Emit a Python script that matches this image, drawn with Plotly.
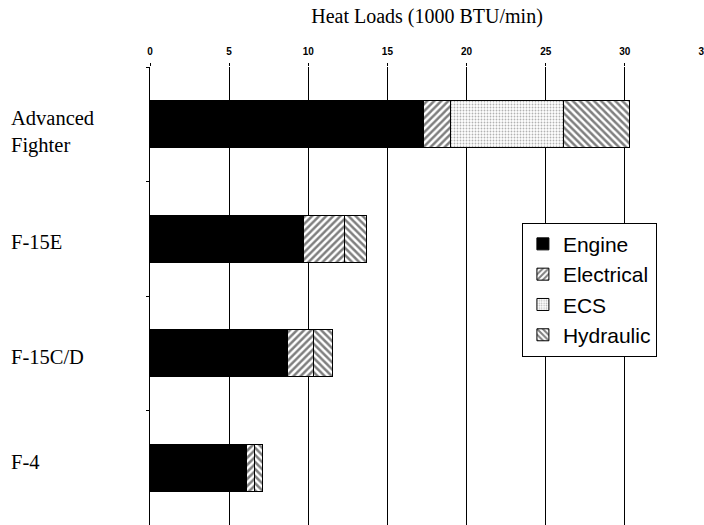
import plotly.graph_objects as go

aircraft = ["Advanced<br>Fighter", "F-15E", "F-15C/D", "F-4"]
engine = [17.3, 9.7, 8.7, 6.1]
electrical = [1.7, 2.6, 1.6, 0.5]
ecs = [7.1, 0.0, 0.0, 0.0]
hydraulic = [4.2, 1.35, 1.25, 0.5]
x_ticks = [0, 5, 10, 15, 20, 25, 30, 35]

series = [
    ("Engine", engine, dict(color="black")),
    ("Electrical", electrical, dict(color="white", pattern=dict(shape="/", fgcolor="black", bgcolor="white", size=5, solidity=0.5))),
    ("ECS", ecs, dict(color="white", pattern=dict(shape=".", fgcolor="#666666", bgcolor="white", size=3, solidity=0.3))),
    ("Hydraulic", hydraulic, dict(color="white", pattern=dict(shape="\\", fgcolor="black", bgcolor="white", size=5, solidity=0.5))),
]

fig = go.Figure()
for name, vals, marker in series:
    m = dict(marker)
    m["line"] = dict(color="black", width=1)
    fig.add_trace(go.Bar(name=name, y=aircraft, x=vals, orientation="h",
                         marker=m, width=0.41))

label_dy = [0.07, 0.03, 0.03, -0.05]
for cat, dy in zip(aircraft, label_dy):
    fig.add_annotation(x=-0.2546, xref="paper", xanchor="left", y=cat, yref="y",
                       yshift=-dy * 114, text=cat, showarrow=False, align="left",
                       font=dict(family="Liberation Serif, Times New Roman, serif", size=20.5, color="black"))

fig.update_layout(
    barmode="stack",
    width=704, height=525,
    margin=dict(l=150, r=0, t=67, b=0, autoexpand=False),
    paper_bgcolor="white", plot_bgcolor="white",
    title=dict(text="Heat Loads (1000 BTU/min)", x=0.5, xref="paper", xanchor="center",
               y=1 - 16 / 525, yref="container", yanchor="middle",
               font=dict(family="Liberation Serif, Times New Roman, serif", size=20, color="black")),
    legend=dict(x=0.915, xanchor="right", y=0.66, yanchor="top",
                bgcolor="white", bordercolor="black", borderwidth=1,
                font=dict(family="Liberation Sans, Arial, sans-serif", size=21, color="black"),
                traceorder="normal", tracegroupgap=0, itemwidth=30),
    showlegend=True,
)
fig.update_xaxes(side="top", range=[0, 35], tickvals=x_ticks, ticktext=[str(v) for v in x_ticks],
                 showgrid=True, gridcolor="black", gridwidth=1, zeroline=False,
                 showline=False, ticks="outside", ticklen=3, tickcolor="black",
                 ticklabeloverflow="allow", ticklabelstandoff=4, automargin=False,
                 tickfont=dict(family="Liberation Sans Narrow, Liberation Sans, Arial, sans-serif", size=10, color="black", weight="bold"))
fig.update_yaxes(type="category", range=[3.5, -0.5], showticklabels=False,
                 showline=True, linecolor="black", linewidth=1, automargin=False,
                 ticks="outside", tickson="boundaries", ticklen=3, tickcolor="black",
                 showgrid=False, zeroline=False)

fig.write_html("out.html", config={"displayModeBar": False},
               post_script="document.body.style.margin='0';document.body.style.overflow='hidden';")
